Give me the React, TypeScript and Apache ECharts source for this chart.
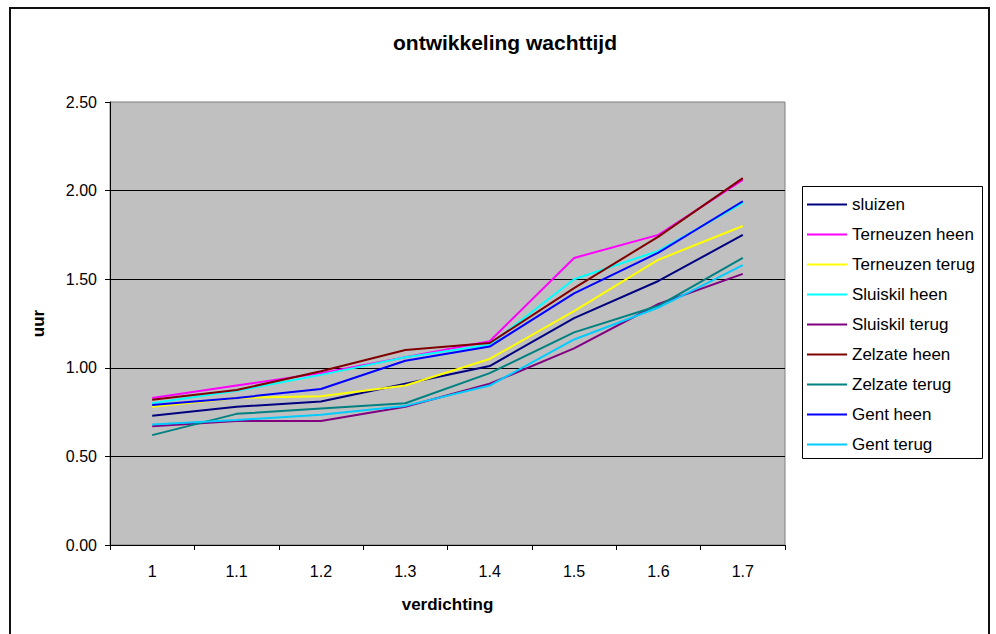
import React, { useEffect, useRef } from "react";
import * as echarts from "echarts";

// Density steps on the x axis
const categories = ["1", "1.1", "1.2", "1.3", "1.4", "1.5", "1.6", "1.7"];

// Waiting time in hours per route
const sluizen = [0.73, 0.78, 0.81, 0.91, 1.01, 1.28, 1.49, 1.75];
const terneuzenHeen = [0.83, 0.9, 0.97, 1.06, 1.15, 1.62, 1.75, 2.06];
const terneuzenTerug = [0.78, 0.83, 0.84, 0.9, 1.05, 1.32, 1.61, 1.8];
const sluiskilHeen = [0.8, 0.87, 0.96, 1.06, 1.13, 1.5, 1.66, 1.93];
const sluiskilTerug = [0.67, 0.7, 0.7, 0.78, 0.91, 1.11, 1.36, 1.53];
const zelzateHeen = [0.82, 0.875, 0.98, 1.1, 1.14, 1.45, 1.74, 2.07];
const zelzateTerug = [0.62, 0.74, 0.77, 0.8, 0.97, 1.2, 1.35, 1.62];
const gentHeen = [0.79, 0.83, 0.88, 1.04, 1.12, 1.42, 1.65, 1.94];
const gentTerug = [0.68, 0.705, 0.735, 0.785, 0.9, 1.16, 1.34, 1.58];

const seriesNames = [
  "sluizen",
  "Terneuzen heen",
  "Terneuzen terug",
  "Sluiskil heen",
  "Sluiskil terug",
  "Zelzate heen",
  "Zelzate terug",
  "Gent heen",
  "Gent terug",
];
const seriesValues = [
  sluizen,
  terneuzenHeen,
  terneuzenTerug,
  sluiskilHeen,
  sluiskilTerug,
  zelzateHeen,
  zelzateTerug,
  gentHeen,
  gentTerug,
];
const seriesColors = [
  "#000080",
  "#FF00FF",
  "#FFFF00",
  "#00FFFF",
  "#800080",
  "#800000",
  "#008080",
  "#0000FF",
  "#00CCFF",
];

const FONT = "Arial, 'Liberation Sans', sans-serif";

export default function App() {
  const ref = useRef<HTMLDivElement>(null);

  useEffect(() => {
    if (!ref.current) return;
    const chart = echarts.init(ref.current, null, { renderer: "svg" });
    chart.setOption({
      animation: false,
      backgroundColor: "#ffffff",
      title: {
        text: "ontwikkeling wachttijd",
        left: 500,
        top: 27,
        textAlign: "center",
        textStyle: { fontFamily: FONT, fontSize: 21, fontWeight: "bold", color: "#000" },
      },
      graphic: [
        {
          type: "rect",
          shape: { x: 10, y: 8, width: 979, height: 700 },
          style: { fill: "none", stroke: "#111", lineWidth: 2 },
          silent: true,
        },
        {
          type: "rect",
          shape: { x: 802.5, y: 186.5, width: 180, height: 272 },
          style: { fill: "#fff", stroke: "#000", lineWidth: 1 },
          z: -1,
          silent: true,
        },
      ],
      legend: {
        orient: "vertical",
        left: 807,
        top: 196,
        padding: 0,
        icon: "rect",
        itemWidth: 40,
        itemHeight: 2,
        itemGap: 13,
        itemTextGap: 5,
        textStyle: { fontFamily: FONT, fontSize: 17, lineHeight: 17, color: "#000" },
        data: seriesNames,
      },
      grid: {
        left: 110,
        top: 102,
        right: 211,
        bottom: 89,
        show: true,
        backgroundColor: "#C0C0C0",
        borderColor: "#808080",
        borderWidth: 1,
      },
      xAxis: {
        type: "category",
        data: categories,
        boundaryGap: true,
        name: "verdichting",
        nameLocation: "middle",
        nameGap: 51,
        nameTextStyle: { fontFamily: FONT, fontSize: 17, fontWeight: "bold", color: "#000" },
        axisLine: { lineStyle: { color: "#000", width: 1 } },
        axisTick: { show: true, inside: false, length: 5, lineStyle: { color: "#000" } },
        axisLabel: { fontFamily: FONT, fontSize: 16, color: "#000", margin: 18 },
        splitLine: { show: false },
      },
      yAxis: {
        type: "value",
        min: 0,
        max: 2.5,
        interval: 0.5,
        name: "uur",
        nameLocation: "middle",
        nameRotate: 90,
        nameGap: 63,
        nameTextStyle: { fontFamily: FONT, fontSize: 17, fontWeight: "bold", color: "#000" },
        axisLine: { show: true, lineStyle: { color: "#000", width: 1 } },
        axisTick: { show: true, inside: false, length: 5, lineStyle: { color: "#000" } },
        axisLabel: {
          fontFamily: FONT,
          fontSize: 16,
          color: "#000",
          margin: 13,
          formatter: (v: number) => v.toFixed(2),
        },
        splitLine: {
          show: true,
          showMaxLine: false,
          lineStyle: { color: "#000", width: 1 },
        },
      },
      series: seriesNames.map((name, i) => ({
        name,
        type: "line",
        data: seriesValues[i],
        symbol: "none",
        showSymbol: false,
        color: seriesColors[i],
        lineStyle: { color: seriesColors[i], width: 2 },
      })),
    });
    return () => chart.dispose();
  }, []);

  return (
    <div
      ref={ref}
      style={{ position: "fixed", left: 0, top: 0, width: 996, height: 634 }}
    />
  );
}
